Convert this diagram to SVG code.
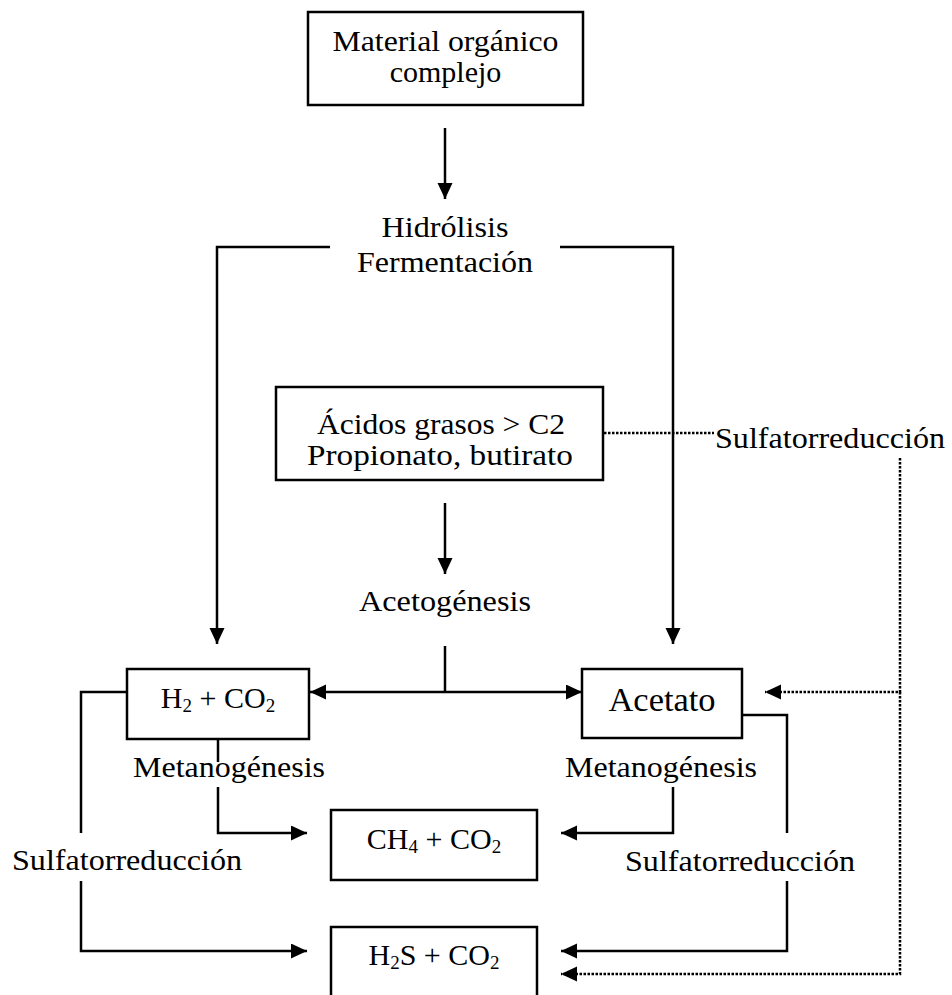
<svg xmlns="http://www.w3.org/2000/svg" width="952" height="995" viewBox="0 0 952 995">
<defs>
<style>
.t{font-family:"Liberation Serif","Times New Roman",serif;font-size:30px;fill:#000;text-anchor:middle}
.big{font-size:33px}
.box{fill:#fff;stroke:#000;stroke-width:2.5}
.ln{fill:none;stroke:#000;stroke-width:2.5}
.dt{fill:none;stroke:#000;stroke-width:2.5;stroke-dasharray:2.5 1.5}
.sub{font-size:19px}
</style>
<marker id="ah" markerUnits="userSpaceOnUse" markerWidth="16" markerHeight="16" refX="16" refY="7.5" orient="auto">
<path d="M0,0 L16,7.5 L0,15 z" fill="#000"/>
</marker>
</defs>
<rect width="952" height="995" fill="#fff"/>
<g id="connectors">
<line class="ln" x1="445" y1="128" x2="445" y2="199" marker-end="url(#ah)"/>
<polyline class="ln" points="330,247 217,247 217,644" marker-end="url(#ah)"/>
<polyline class="ln" points="560,247 673,247 673,644" marker-end="url(#ah)"/>
<line class="ln" x1="445" y1="503" x2="445" y2="574" marker-end="url(#ah)"/>
<line class="dt" x1="604" y1="433" x2="714" y2="433"/>
<line class="ln" x1="445" y1="646" x2="445" y2="692"/>
<line class="ln" x1="445" y1="692" x2="310" y2="692" marker-end="url(#ah)"/>
<line class="ln" x1="445" y1="692" x2="582" y2="692" marker-end="url(#ah)"/>
<polyline class="dt" points="900,458 900,692 765,692" marker-end="url(#ah)"/>
<polyline class="dt" points="900,692 900,974 561,974" marker-end="url(#ah)"/>
<line class="ln" x1="218" y1="739" x2="218" y2="762"/>
<polyline class="ln" points="218,787 218,833 307,833" marker-end="url(#ah)"/>
<polyline class="ln" points="673,787 673,833 561,833" marker-end="url(#ah)"/>
<polyline class="ln" points="127,692 81,692 81,833"/>
<polyline class="ln" points="81,881 81,951 307,951" marker-end="url(#ah)"/>
<polyline class="ln" points="742,715 787,715 787,833"/>
<polyline class="ln" points="787,881 787,951 561,951" marker-end="url(#ah)"/>
</g>
<g id="n_material">
<rect class="box" x="308" y="12" width="275" height="93"/>
<text class="t" x="445.5" y="51" textLength="226" lengthAdjust="spacingAndGlyphs">Material orgánico</text>
<text class="t" x="445.5" y="82">complejo</text>
</g>
<g id="n_hidrolisis">
<text class="t" x="445" y="237" textLength="127" lengthAdjust="spacingAndGlyphs">Hidrólisis</text>
<text class="t" x="445" y="272" textLength="176" lengthAdjust="spacingAndGlyphs">Fermentación</text>
</g>
<g id="n_acidos">
<rect class="box" x="276" y="387" width="327" height="93"/>
<text class="t" x="441" y="434" textLength="248" lengthAdjust="spacingAndGlyphs">Ácidos grasos &gt; C2</text>
<text class="t" x="440" y="465" textLength="266" lengthAdjust="spacingAndGlyphs">Propionato, butirato</text>
</g>
<g id="n_sulfato_top">
<text class="t" x="830" y="448" textLength="230" lengthAdjust="spacingAndGlyphs">Sulfatorreducción</text>
</g>
<g id="n_acetogenesis">
<text class="t" x="445" y="611" textLength="172" lengthAdjust="spacingAndGlyphs">Acetogénesis</text>
</g>
<g id="n_h2co2">
<rect class="box" x="127" y="669" width="182" height="70"/>
<text class="t" x="218" y="708">H<tspan class="sub" dy="4">2</tspan><tspan dy="-4"> + CO</tspan><tspan class="sub" dy="4">2</tspan></text>
</g>
<g id="n_acetato">
<rect class="box" x="582" y="669" width="160" height="69"/>
<text class="t big" x="662" y="711" textLength="107" lengthAdjust="spacingAndGlyphs">Acetato</text>
</g>
<g id="n_metano_l">
<text class="t" x="229" y="777" textLength="192" lengthAdjust="spacingAndGlyphs">Metanogénesis</text>
</g>
<g id="n_metano_r">
<text class="t" x="661" y="777" textLength="192" lengthAdjust="spacingAndGlyphs">Metanogénesis</text>
</g>
<g id="n_sulfato_l">
<text class="t" x="127" y="870" textLength="230" lengthAdjust="spacingAndGlyphs">Sulfatorreducción</text>
</g>
<g id="n_sulfato_r">
<text class="t" x="740" y="871" textLength="230" lengthAdjust="spacingAndGlyphs">Sulfatorreducción</text>
</g>
<g id="n_ch4">
<rect class="box" x="331" y="810" width="206" height="70"/>
<text class="t" x="434" y="849">CH<tspan class="sub" dy="4">4</tspan><tspan dy="-4"> + CO</tspan><tspan class="sub" dy="4">2</tspan></text>
</g>
<g id="n_h2s">
<rect class="box" x="331" y="927" width="206" height="80"/>
<text class="t" x="434" y="965">H<tspan class="sub" dy="4">2</tspan><tspan dy="-4">S + CO</tspan><tspan class="sub" dy="4">2</tspan></text>
</g>
</svg>
